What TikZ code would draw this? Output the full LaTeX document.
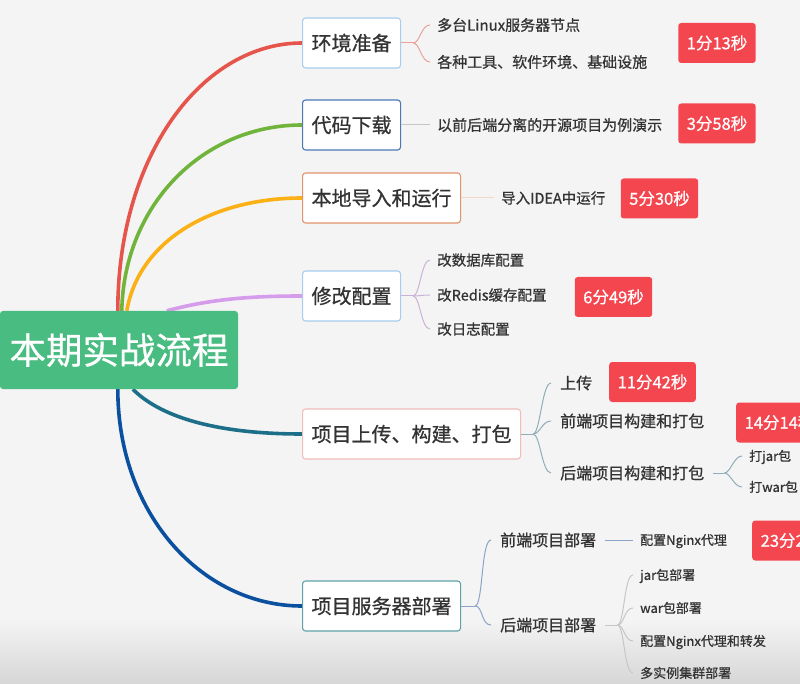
\documentclass[tikz,border=0pt]{standalone}
\usepackage{fontspec}
\setmainfont{Noto Sans CJK SC}[FakeBold=0.7]
\usetikzlibrary{backgrounds}

\definecolor{paper}{HTML}{F4F4F4}
\definecolor{ink}{HTML}{333333}
\definecolor{rootgreen}{HTML}{49BC81}
\definecolor{tagred}{HTML}{F4464F}
\definecolor{cRed}{HTML}{E5554C}
\definecolor{cGreen}{HTML}{71B43C}
\definecolor{cOrange}{HTML}{FBB016}
\definecolor{cPurple}{HTML}{D69CEC}
\definecolor{cTeal}{HTML}{1D6F89}
\definecolor{cBlue}{HTML}{0B4F9F}
\definecolor{bEnv}{HTML}{A8CDEF}
\definecolor{bCode}{HTML}{4C78B6}
\definecolor{bImp}{HTML}{E1946A}
\definecolor{bUp}{HTML}{F2BCBC}
\definecolor{bDep}{HTML}{5FA3A8}
\definecolor{lRed}{HTML}{EBA29C}
\definecolor{lGray}{HTML}{C6C6C6}
\definecolor{lOrange}{HTML}{F1D7C8}
\definecolor{lPurple}{HTML}{C9B3D8}
\definecolor{lTeal}{HTML}{8FAEB6}
\definecolor{lBlue}{HTML}{8AA5C8}

\tikzset{
    rootbox/.style={fill=rootgreen, rounded corners=3pt, text=white,
        font=\fontsize{36.5}{40}\selectfont, minimum width=238pt, minimum height=78pt, inner sep=0pt},
    topic/.style={anchor=west, draw, fill=white, rounded corners=3pt, line width=1.1pt, text=ink,
        font=\fontsize{20}{24}\selectfont, inner xsep=9pt, minimum height=50pt},
    leaf/.style={anchor=west, inner xsep=7pt, inner ysep=1pt, text=ink,
        font=\fontsize{15}{18}\selectfont, text height=13.2pt, text depth=1.8pt},
    leafs/.style={leaf, font=\fontsize{14.5}{17}\selectfont, text height=12.8pt, text depth=1.7pt},
    mid/.style={leaf, inner xsep=9pt, font=\fontsize{16}{19}\selectfont, text height=14.1pt, text depth=1.9pt},
    twig/.style={leaf, font=\fontsize{13}{16}\selectfont, text height=11.4pt, text depth=1.6pt},
    badge/.style={fill=tagred, rounded corners=3pt, text=white,
        font=\fontsize{16.5}{20}\selectfont, inner xsep=8.5pt, minimum height=40pt},
    branch/.style={line width=3.6pt},
    twigline/.style={line width=1pt},
}

\begin{document}
\begin{tikzpicture}[x=1pt, y=-1pt]
    \useasboundingbox (0,0) rectangle (800,684);
    \clip (0,0) rectangle (800,684);

    % centre and main topics
    \node[rootbox] (root) at (119,350) {本期实战流程};
    \foreach \n/\y/\c/\t in {env/43/bEnv/环境准备, code/125/bCode/代码下载,
                             imp/198/bImp/本地导入和运行, mod/296/bEnv/修改配置,
                             up/434/bUp/项目上传、构建、打包, dep/606/bDep/项目服务器部署} {
        \node[topic, draw=\c] (\n) at (302,\y) {\t};
    }

    % time tags
    \foreach \n/\x/\y/\t in {t1/717/43/1分13秒, t2/717/123.5/3分58秒, t3/659.5/198.5/5分30秒,
                             t4/613.5/297/6分49秒, t5/652.5/382/11分42秒} {
        \node[badge] (\n) at (\x,\y) {\t};
    }
    \node[badge, anchor=west] (t6) at (736,422.5) {14分14秒};
    \node[badge, anchor=west] (t7) at (752,540.5) {23分2\phantom{0秒}};

    % sub topics
    \foreach \n/\y/\t in {a/25/多台Linux服务器节点, b/62/各种工具、软件环境、基础设施} {
        \node[leaf] (env-\n) at (430,\y) {\t};
    }
    \node[leaf] (code-a) at (430,125) {以前后端分离的开源项目为例演示};
    \node[leafs] (imp-a) at (494,198) {导入IDEA中运行};
    \foreach \n/\y/\t in {a/260/改数据库配置, b/295/改Redis缓存配置, c/329/改日志配置} {
        \node[leafs] (mod-\n) at (430,\y) {\t};
    }
    \foreach \n/\y/\t in {a/383/上传, b/421/前端项目构建和打包, c/473/后端项目构建和打包} {
        \node[mid] (up-\n) at (551,\y) {\t};
    }
    \foreach \n/\y/\t in {a/456/打jar包, b/487/打war包} {
        \node[twig] (upc-\n) at (742,\y) {\t};
    }
    \foreach \n/\y/\t in {a/540/前端项目部署, b/625/后端项目部署} {
        \node[mid] (dep-\n) at (491,\y) {\t};
    }
    \node[twig] (depa-a) at (633,540) {配置Nginx代理};
    \foreach \n/\y/\t in {a/575/jar包部署, b/608/war包部署, c/641/配置Nginx代理和转发, d/673/多实例集群部署} {
        \node[twig] (depb-\n) at (633,\y) {\t};
    }

    % thin connectors
    \draw[twigline, lRed] (env.east) -- ++(12,0) coordinate (env-j);
    \foreach \n in {a,b} \draw[twigline, lRed] (env-j) .. controls +(7,0) and +(-9,0) .. (env-\n.west);
    \draw[twigline, lGray] (code.east) -- (code-a.west);
    \draw[twigline, lOrange] (imp.east) -- (imp-a.west);
    \draw[twigline, lPurple] (mod.east) -- ++(12,0) coordinate (mod-j);
    \foreach \n in {a,b,c} \draw[twigline, lPurple] (mod-j) .. controls +(7,0) and +(-9,0) .. (mod-\n.west);
    \draw[twigline, lTeal] (up.east) -- ++(12,0) coordinate (up-j);
    \foreach \n in {a,b,c} \draw[twigline, lTeal] (up-j) .. controls +(7,0) and +(-9,0) .. (up-\n.west);
    \draw[twigline, lTeal] (up-c.east) -- ++(11,0) coordinate (upc-j);
    \foreach \n in {a,b} \draw[twigline, lTeal] (upc-j) .. controls +(6,0) and +(-8,0) .. (upc-\n.west);
    \draw[twigline, lBlue] (dep.east) -- ++(14,0) coordinate (dep-j);
    \foreach \n in {a,b} \draw[twigline, lBlue] (dep-j) .. controls +(8,0) and +(-10,0) .. (dep-\n.west);
    \draw[twigline, lBlue] (dep-a.east) -- (depa-a.west);
    \draw[twigline, lGray] (dep-b.east) -- ++(12,0) coordinate (depb-j);
    \foreach \n in {a,b,c,d} \draw[twigline, lGray] (depb-j) .. controls +(7,0) and +(-9,0) .. (depb-\n.west);

    % main branches behind the centre
    \begin{scope}[on background layer]
        \fill[paper] (0,0) rectangle (800,684);
        \shade[top color=paper, bottom color=black!16] (0,620) rectangle (800,684);
        \draw[branch, cRed] ([xshift=118pt]root.north west) .. controls +(0,-155) and +(-100,0) .. (env.west);
        \draw[branch, cGreen] ([xshift=122pt]root.north west) .. controls +(2,-105) and +(-100,0) .. (code.west);
        \draw[branch, cOrange] ([xshift=127pt]root.north west) .. controls +(12,-70) and +(-90,0) .. (imp.west);
        \draw[branch, cPurple] ([xshift=167pt]root.north west) .. controls +(45,-12) and +(-50,0) .. (mod.west);
        \draw[branch, cTeal] ([xshift=133pt]root.south west) .. controls +(30,30) and +(-80,0) .. (up.west);
        \draw[branch, cBlue] ([xshift=118pt]root.south west) .. controls +(0,125) and +(-100,0) .. (dep.west);
    \end{scope}
\end{tikzpicture}
\end{document}
